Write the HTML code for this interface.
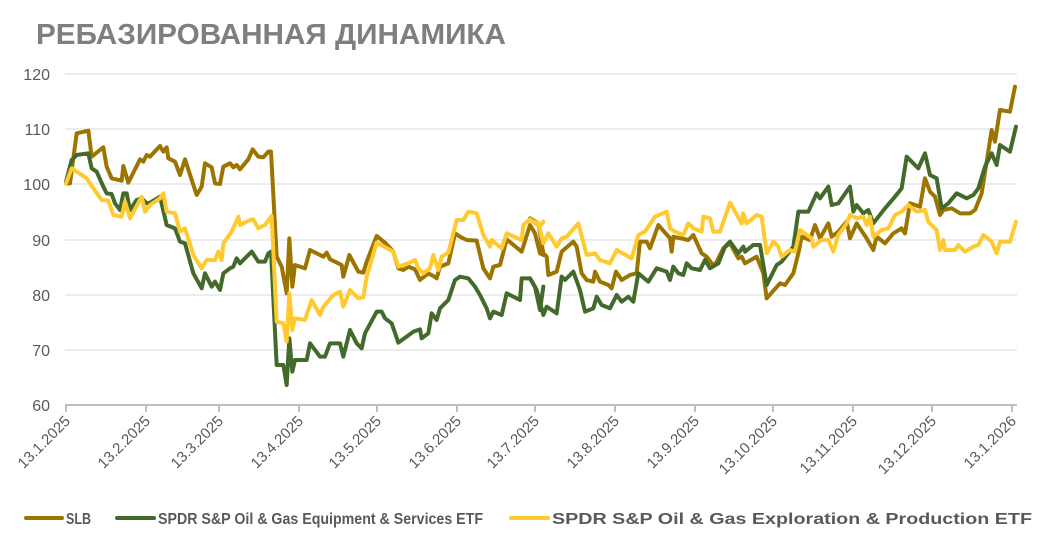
<!DOCTYPE html>
<html><head><meta charset="utf-8"><style>
html,body{margin:0;padding:0;background:#fff;}
svg{display:block;font-family:"Liberation Sans",sans-serif;}
</style></head><body>
<svg width="1054" height="548" viewBox="0 0 1054 548">
<text x="36" y="44" font-size="29" font-weight="bold" fill="#7f7f7f" textLength="470" lengthAdjust="spacingAndGlyphs">РЕБАЗИРОВАННАЯ ДИНАМИКА</text>
<g stroke="#d9d9d9" stroke-width="1">
<line x1="65" x2="1017" y1="74" y2="74"/><line x1="65" x2="1017" y1="129" y2="129"/><line x1="65" x2="1017" y1="184" y2="184"/><line x1="65" x2="1017" y1="240" y2="240"/><line x1="65" x2="1017" y1="295" y2="295"/><line x1="65" x2="1017" y1="350" y2="350"/>
</g>
<g stroke="#bfbfbf" stroke-width="2">
<line x1="65" x2="1017" y1="405" y2="405"/>
<line x1="66" x2="66" y1="405" y2="412"/><line x1="146" x2="146" y1="405" y2="412"/><line x1="219" x2="219" y1="405" y2="412"/><line x1="299" x2="299" y1="405" y2="412"/><line x1="377" x2="377" y1="405" y2="412"/><line x1="457" x2="457" y1="405" y2="412"/><line x1="535" x2="535" y1="405" y2="412"/><line x1="615" x2="615" y1="405" y2="412"/><line x1="695" x2="695" y1="405" y2="412"/><line x1="773" x2="773" y1="405" y2="412"/><line x1="853" x2="853" y1="405" y2="412"/><line x1="932" x2="932" y1="405" y2="412"/><line x1="1012" x2="1012" y1="405" y2="412"/>
</g>
<g font-size="16" fill="#595959" text-anchor="end">
<text x="50" y="80">120</text><text x="50" y="135">110</text><text x="50" y="190">100</text><text x="50" y="246">90</text><text x="50" y="301">80</text><text x="50" y="356">70</text><text x="50" y="411">60</text>
</g>
<g font-size="15" fill="#595959" text-anchor="end">
<text transform="translate(71,422) rotate(-45)">13.1.2025</text>
<text transform="translate(151,422) rotate(-45)">13.2.2025</text>
<text transform="translate(224,422) rotate(-45)">13.3.2025</text>
<text transform="translate(304,422) rotate(-45)">13.4.2025</text>
<text transform="translate(382,422) rotate(-45)">13.5.2025</text>
<text transform="translate(462,422) rotate(-45)">13.6.2025</text>
<text transform="translate(540,422) rotate(-45)">13.7.2025</text>
<text transform="translate(620,422) rotate(-45)">13.8.2025</text>
<text transform="translate(700,422) rotate(-45)">13.9.2025</text>
<text transform="translate(778,422) rotate(-45)">13.10.2025</text>
<text transform="translate(858,422) rotate(-45)">13.11.2025</text>
<text transform="translate(937,422) rotate(-45)">13.12.2025</text>
<text transform="translate(1017,422) rotate(-45)">13.1.2026</text>
</g>
<g fill="none" stroke-width="12" stroke-linejoin="round" stroke-linecap="round">
<g transform="translate(60,60) scale(0.33333)">
<polyline stroke="#9c7400" points="18,370 30,370 50,220 85,212 95,290 130,262 140,320 155,355 185,362 190,318 205,368 240,298 250,305 260,285 270,290 300,258 310,275 320,262 325,295 345,305 360,345 375,298 410,405 425,380 435,310 455,322 465,370 480,372 490,320 510,310 520,322 530,315 540,328 565,298 578,268 595,290 610,292 625,275 633,275 650,590 665,620 680,700 688,535 697,680 705,615 735,625 750,570 790,590 800,578 810,598 825,605 845,615 850,650 868,585 895,635 910,638 920,605 950,528 975,548 1000,575 1015,625 1030,630 1045,620 1065,628 1080,660 1105,640 1120,648 1130,655 1140,620 1165,610 1185,520 1200,530 1220,540 1250,542 1270,625 1290,655 1300,620 1320,615 1340,538 1385,575 1410,495 1425,520 1440,580 1440,580 1450,585"/>
</g>
<g transform="translate(530,60) scale(0.33333)">
<polyline stroke="#9c7400" points="0,475 25,490 40,580 50,590 55,645 80,635 95,575 130,545 140,560 155,640 170,660 190,665 195,635 210,665 235,675 245,685 258,635 275,660 300,645 320,640 330,545 350,545 360,565 385,495 420,535 425,575 430,530 475,540 490,525 515,580 530,590 545,610 555,615 580,565 600,550 625,595 635,590 645,610 680,590 700,640 710,715 750,670 765,675 790,640 805,580 815,530 840,540 855,495 870,535 895,490 905,530 925,515 950,485 960,535 980,490 1010,535 1030,570 1040,530 1065,550 1090,520 1115,505 1125,520 1140,430 1170,440 1185,355 1200,395 1215,410 1230,465 1240,450 1265,445 1290,460 1320,460 1335,450 1355,400 1385,210 1395,245 1410,150 1440,155 1455,80"/>
</g>
<g transform="translate(60,60) scale(0.33333)">
<polyline stroke="#436a2b" points="18,365 35,300 50,285 85,280 95,325 110,335 130,380 140,400 155,402 165,430 180,450 190,400 200,400 210,450 230,420 245,415 260,430 270,428 300,410 320,495 345,505 360,545 375,550 400,640 425,685 435,640 455,680 465,665 480,690 490,640 510,625 520,620 530,595 540,610 575,575 595,605 615,605 625,580 633,575 650,915 670,915 680,975 688,835 697,935 705,900 740,900 750,850 780,890 795,890 810,850 840,850 850,890 870,810 890,850 905,865 915,820 950,755 965,755 975,775 995,790 1015,848 1040,830 1060,815 1080,808 1085,835 1105,820 1115,760 1130,780 1140,745 1165,720 1185,660 1200,650 1225,655 1245,680 1260,705 1280,745 1290,775 1300,755 1325,765 1340,700 1380,720 1385,655 1410,655 1425,680 1440,750 1450,680"/>
</g>
<g transform="translate(530,60) scale(0.33333)">
<polyline stroke="#436a2b" points="0,655 20,690 40,765 50,740 80,760 95,650 105,660 130,635 150,690 165,755 190,745 200,710 215,735 240,745 260,705 275,725 295,710 310,725 325,640 355,665 380,625 410,635 420,660 430,620 445,640 460,645 470,610 485,625 510,630 525,600 540,625 565,610 585,560 600,545 625,580 640,560 645,575 670,555 690,555 710,675 740,615 755,605 790,560 805,455 835,455 860,400 870,415 895,380 905,435 925,430 960,380 970,455 980,435 1000,460 1015,450 1030,490 1065,445 1095,410 1115,385 1130,290 1165,325 1185,280 1200,345 1220,355 1235,445 1255,430 1280,400 1310,415 1330,405 1345,385 1365,320 1385,280 1400,315 1410,255 1440,275 1458,200"/>
</g>
<g transform="translate(60,60) scale(0.33333)">
<polyline stroke="#ffca2f" points="18,370 35,325 55,338 80,355 100,385 125,420 145,422 160,465 185,470 195,425 210,475 245,410 255,455 270,435 300,415 310,400 320,455 345,460 360,515 375,505 400,585 425,625 440,600 465,600 475,575 485,600 490,550 515,515 535,470 540,495 570,480 580,478 595,505 615,495 635,468 650,785 670,790 680,845 688,700 697,810 705,775 735,780 755,720 780,765 790,740 820,705 840,695 850,740 870,690 895,715 910,712 920,650 950,548 1000,575 1015,620 1045,610 1065,600 1075,625 1090,640 1110,625 1120,585 1135,630 1145,590 1165,578 1190,480 1210,480 1225,455 1250,460 1270,525 1290,560 1295,540 1325,565 1340,520 1385,540 1390,495 1410,478 1425,490 1440,500 1450,485"/>
</g>
<g transform="translate(530,60) scale(0.33333)">
<polyline stroke="#ffca2f" points="0,480 25,490 40,550 55,520 80,560 95,535 110,530 145,490 170,585 195,580 210,600 240,610 260,570 305,595 325,525 345,515 375,470 410,455 420,505 435,515 460,525 475,490 490,505 515,515 520,470 540,475 550,515 570,515 600,428 635,490 640,460 650,490 680,465 695,470 710,580 730,545 745,560 755,590 780,570 795,575 810,510 845,535 850,560 875,540 895,540 910,575 925,525 950,490 960,465 980,475 1000,470 1010,495 1020,470 1030,530 1055,510 1075,505 1095,465 1115,455 1135,435 1160,455 1185,450 1195,485 1220,510 1230,570 1240,540 1245,570 1275,570 1285,555 1305,575 1330,560 1345,555 1360,525 1385,545 1400,580 1410,545 1440,545 1458,485"/>
</g>
</g>
<g stroke-width="4" stroke-linecap="round">
<line x1="26" x2="62" y1="518" y2="518" stroke="#9c7400"/>
<line x1="117" x2="154" y1="518" y2="518" stroke="#436a2b"/>
<line x1="511" x2="548" y1="518" y2="518" stroke="#ffca2f"/>
</g>
<g font-size="16" font-weight="bold" fill="#595959">
<text x="66" y="524" textLength="25" lengthAdjust="spacingAndGlyphs">SLB</text>
<text x="158" y="524" textLength="325" lengthAdjust="spacingAndGlyphs">SPDR S&amp;P Oil &amp; Gas Equipment &amp; Services ETF</text>
<text x="552" y="524" textLength="480" lengthAdjust="spacingAndGlyphs">SPDR S&amp;P Oil &amp; Gas Exploration &amp; Production ETF</text>
</g>
</svg>
</body></html>
